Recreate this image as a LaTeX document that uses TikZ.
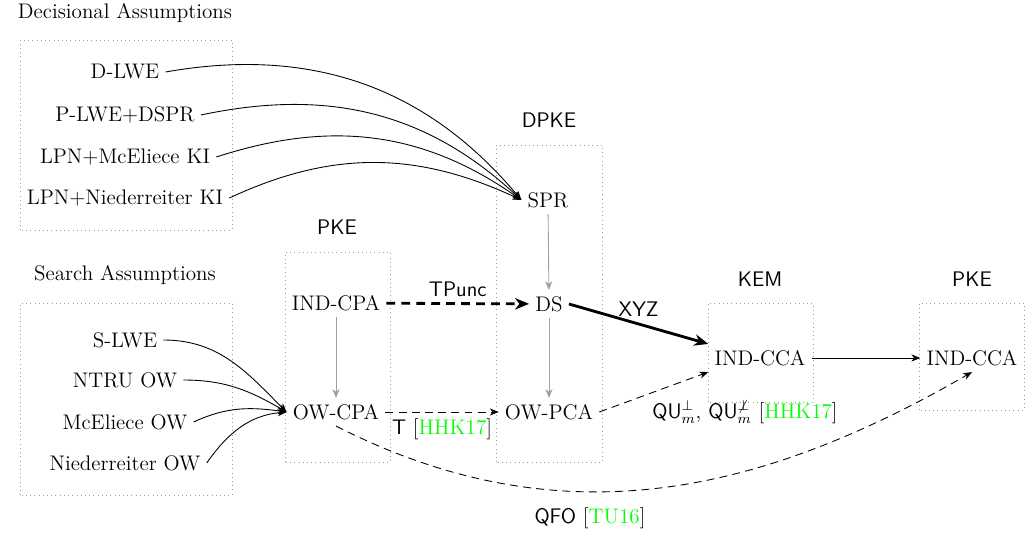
\documentclass[tikz,border=0pt]{standalone}
\usepackage{amsmath}
\usepackage{amssymb}
\usepackage{tikz}
\usetikzlibrary{arrows.meta}
\usepackage{xcolor}

\newcommand{\citeg}[1]{[\textcolor{green}{#1}]}

\begin{document}
\begin{tikzpicture}[font=\large,line width=0.5pt,
    >={Stealth[length=5pt,width=4pt,inset=1.5pt]},
    grp/.style={draw=gray!80,line width=0.4pt,dotted},
    weak/.style={->,gray!75},
    dsh/.style={->,dash pattern=on 4.5pt off 3pt},
    big/.style={-{Stealth[length=8pt,width=6.5pt,inset=2.5pt]},line width=1.6pt}]
  \useasboundingbox (0,0) rectangle (20.5,10.68);
  % group titles
  \node (dectitle) at (2.5,10.42) {Decisional Assumptions};
  \node (srctitle) at (2.5,5.18) {Search Assumptions};
  \node (pketitle) at (6.74,6.14) {\textsf{PKE}};
  \node (dpketitle) at (10.98,8.28) {\textsf{DPKE}};
  \node (kemtitle) at (15.2,5.1) {\textsf{KEM}};
  \node (pketitleb) at (19.44,5.1) {\textsf{PKE}};
  % dotted groups
  \draw[grp] (0.4,6.08) rectangle (4.64,9.88);
  \draw[grp] (0.4,0.78) rectangle (4.64,4.62);
  \draw[grp] (5.7,1.44) rectangle (7.8,5.64);
  \draw[grp] (9.92,1.44) rectangle (12.04,7.78);
  \draw[grp] (14.16,2.64) rectangle (16.26,4.62);
  \draw[grp] (18.38,2.48) rectangle (20.48,4.62);
  % assumptions
  \node (dlwe) at (2.5,9.24) {D-LWE};
  \node (plwe) at (2.5,8.38) {P-LWE+DSPR};
  \node (lpnmc) at (2.5,7.54) {LPN+McEliece KI};
  \node (lpnni) at (2.5,6.72) {LPN+Niederreiter KI};
  \node (slwe) at (2.5,3.88) {S-LWE};
  \node (ntru) at (2.5,3.08) {NTRU OW};
  \node (mcow) at (2.5,2.24) {McEliece OW};
  \node (niow) at (2.5,1.42) {Niederreiter OW};
  % security notions
  \node (indcpa) at (6.72,4.62) {IND-CPA};
  \node (owcpa) at (6.72,2.44) {OW-CPA};
  \node (spr) at (10.96,6.68) {SPR};
  \node (ds) at (10.98,4.6) {DS};
  \node (owpca) at (10.98,2.44) {OW-PCA};
  \node (kcca) at (15.2,3.52) {IND-CCA};
  \node (pcca) at (19.44,3.52) {IND-CCA};
  % decisional -> SPR
  \draw[->] (dlwe.east) to[out=10,in=130] (spr.west);
  \draw[->] (plwe.east) to[out=12,in=137] (spr.west);
  \draw[->] (lpnmc.east) to[out=18,in=145] (spr.west);
  \draw[->] (lpnni.east) to[out=25,in=155] (spr.west);
  % search -> OW-CPA
  \draw[->] (slwe.east) to[out=0,in=135] (owcpa.west);
  \draw[->] (ntru.east) to[out=0,in=150] (owcpa.west);
  \draw[->] (mcow.east) to[out=25,in=172] (owcpa.west);
  \draw[->] (niow.east) to[out=55,in=185] (owcpa.west);
  % implications
  \draw[weak] (indcpa) -- (owcpa);
  \draw[weak] (spr) -- (ds);
  \draw[weak] (ds) -- (owpca);
  % transforms
  \draw[big,dash pattern=on 5pt off 3.5pt] (indcpa) -- (ds) node[midway,above] (tpunc) {\textsf{TPunc}};
  \draw[big] (ds.east) -- (kcca.north west) node[midway,above] (xyz) {\textsf{XYZ}};
  \draw[dsh] (owcpa) -- (owpca) node[midway,below] (ttr) {\textsf{T} \citeg{HHK17}};
  \draw[dsh] (owpca.east) -- (kcca.south west);
  \node (qu) at (14.9,2.44) {\textsf{QU}$^{\perp}_{m}$, \textsf{QU}$^{\not\perp}_{m}$ \citeg{HHK17}};
  \draw[->] (kcca) -- (pcca);
  \draw[dsh] (owcpa.south) to[out=-27,in=-150] (pcca.south);
  \node (qfo) at (11.8,0.32) {\textsf{QFO} \citeg{TU16}};
\end{tikzpicture}
\end{document}
